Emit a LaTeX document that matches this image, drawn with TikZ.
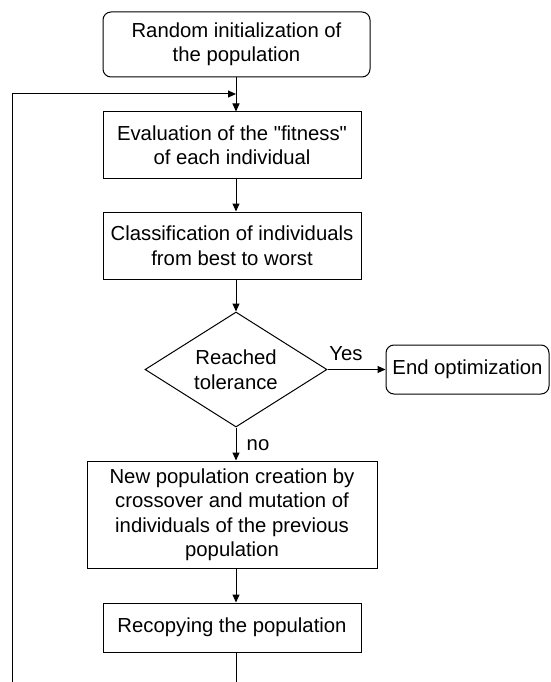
\documentclass[tikz,border=0pt]{standalone}
\usepackage{fontspec}
\setmainfont{Liberation Sans}[Ligatures=TeXOff]
\usetikzlibrary{shapes.geometric,arrows.meta}
\begin{document}
\begin{tikzpicture}[x=1pt,y=-1pt,
  every node/.style={font=\fontsize{20.3}{24.5}\selectfont, align=center, inner sep=0pt},
  box/.style={draw, line width=1pt, rectangle},
  rbox/.style={draw, line width=1pt, rectangle, rounded corners=8pt},
  decision/.style={draw, line width=1pt, diamond, aspect=1.58},
  conn/.style={line width=1pt},
  arr/.style={line width=1pt, -{Triangle[length=8pt,width=7pt]}},
  lbl/.style={}
]
\useasboundingbox (0,0) rectangle (550,682);

\node[rbox, minimum width=267pt, minimum height=65pt] (init) at (236.5,44.5) {Random initialization of\\the population};
\node[box, minimum width=258pt, minimum height=66pt] (eval) at (232,145) {Evaluation of the "fitness"\\of each individual};
\node[box, minimum width=258pt, minimum height=67pt] (class) at (232,245.5) {Classification of individuals\\from best to worst};
\node[decision, minimum width=182pt, minimum height=115pt] (dec) at (236,369.5) {Reached\\tolerance};
\node[rbox, minimum width=163pt, minimum height=49pt] (end) at (467.5,369.5) {End optimization};
\node[box, minimum width=290pt, minimum height=107pt] (newpop) at (232,514.5) {New population creation by\\crossover and mutation of\\individuals of the previous\\population};
\node[box, minimum width=258pt, minimum height=49pt] (recopy) at (232,627.5) {Recopying the population};

\coordinate (j) at (236,94);
\coordinate (bl) at (12,682);
\coordinate (br) at (236,682);

\draw[arr] (init.south -| j) -- (eval.north -| j);
\draw[arr] (eval.south -| j) -- (class.north -| j);
\draw[arr] (class.south -| j) -- (dec.north);
\draw[arr] (dec.east) -- (end.west);
\draw[arr] (dec.south) -- (newpop.north -| j);
\draw[arr] (newpop.south -| j) -- (recopy.north -| j);
\draw[conn] (recopy.south -| j) -- (br);
\draw[arr] (bl) |- (j);

\node[lbl] (yes) at (346,354) {Yes};
\node[lbl] (no) at (258,445) {no};
\end{tikzpicture}
\end{document}
